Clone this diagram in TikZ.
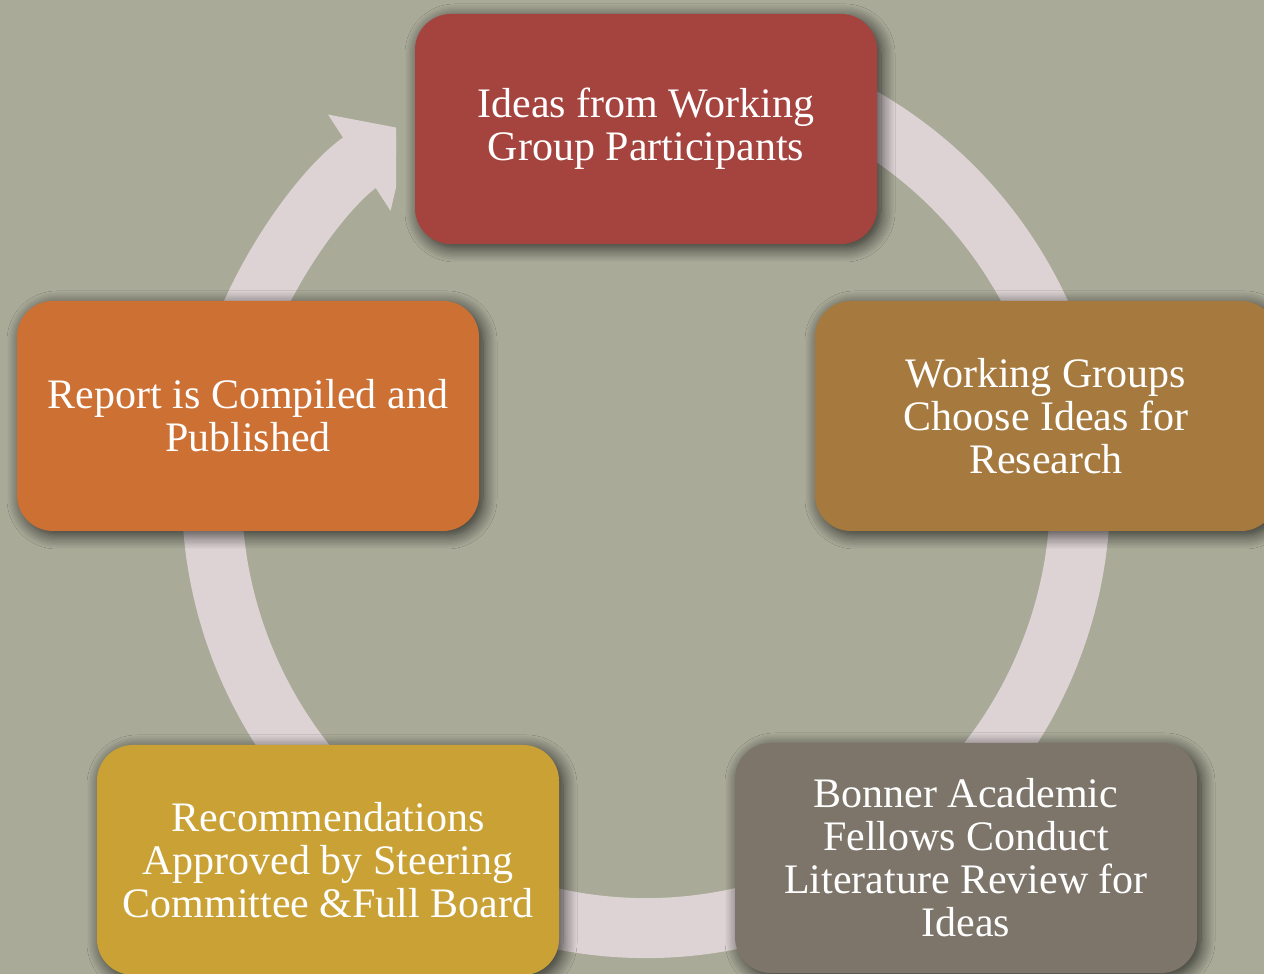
\documentclass[tikz,border=0pt]{standalone}
\usepackage{fontspec}
\setmainfont{Liberation Serif}
\usetikzlibrary{arrows.meta}
\usetikzlibrary{shadows.blur}
\definecolor{backdrop}{RGB}{169,170,152}
\definecolor{ringcol}{RGB}{221,211,213}
\definecolor{ideascol}{RGB}{165,67,63}
\definecolor{choosecol}{RGB}{166,122,62}
\definecolor{reviewcol}{RGB}{125,117,106}
\definecolor{approvecol}{RGB}{201,161,53}
\definecolor{reportcol}{RGB}{204,112,52}
\tikzset{
  stage/.style={rounded corners=36pt, minimum width=462pt, minimum height=230pt,
    inner sep=0pt, text=white, align=center,
    font=\fontsize{42}{43}\selectfont,
    blur shadow={shadow xshift=4pt, shadow yshift=-4pt,
      shadow blur radius=14pt, shadow blur steps=12, shadow opacity=75}},
  ring/.style={ringcol, line width=60pt, -{Triangle[width=111pt,length=60pt]}}
}

\begin{document}
\begin{tikzpicture}[x=1pt,y=1pt]
\clip (0,0) rectangle (1264,974);
\fill[backdrop] (0,0) rectangle (1264,974);
\coordinate (hub) at (646,480);
% the cycle ring, its head cut short before the top box
\begin{scope}
\clip (0,0) rectangle (396,974) (415,0) rectangle (1264,974);
\draw[ring] (hub) ++(70:434) arc[start angle=70, end angle=-237, radius=434pt];
\end{scope}
\node[stage, fill=ideascol] (ideas) at (646,845) {Ideas from Working\\Group Participants};
\node[stage, fill=choosecol] (choose) at (1046,558) {Working Groups\\Choose Ideas for\\Research};
\node[stage, fill=reviewcol] (review) at (966,116) {Bonner Academic\\Fellows Conduct\\Literature Review for\\Ideas};
\node[stage, fill=approvecol] (approve) at (328,114) {Recommendations\\Approved by Steering\\Committee \&Full Board};
\node[stage, fill=reportcol] (report) at (248,558) {Report is Compiled and\\Published};
\end{tikzpicture}
\end{document}
